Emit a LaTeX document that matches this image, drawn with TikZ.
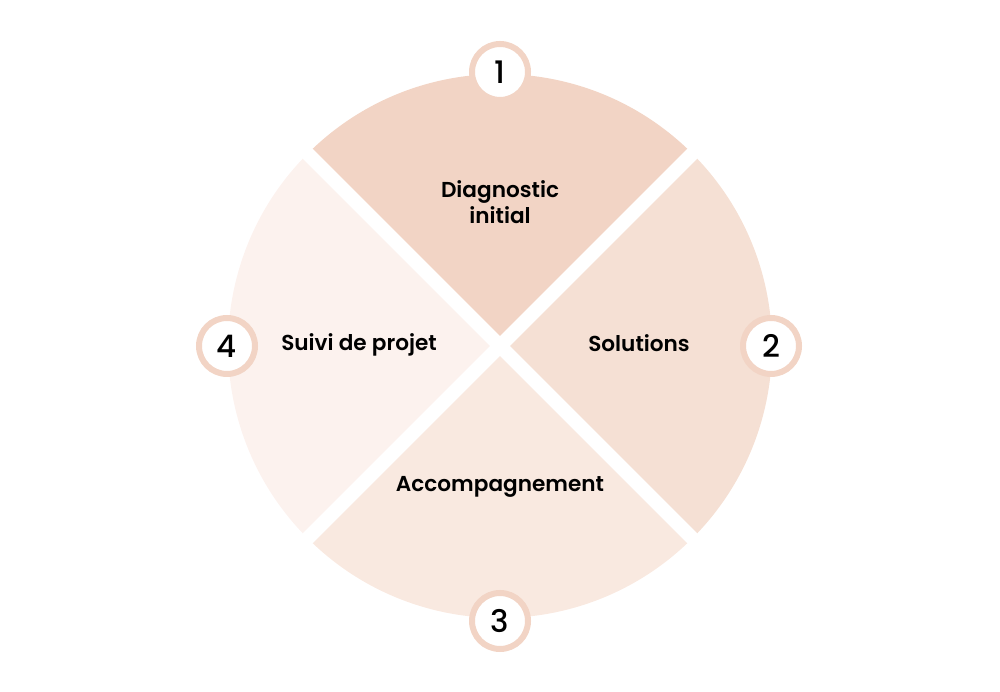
\documentclass[tikz,border=0pt]{standalone}
\usepackage{fontspec}
\setmainfont{Poppins}
\newfontfamily\semifont{Poppins SemiBold}
\newfontfamily\medfont{Poppins Medium}
\usepackage{tikz}

\definecolor{segA}{HTML}{F2D4C5}
\definecolor{segB}{HTML}{F5E0D4}
\definecolor{segC}{HTML}{F9E9E0}
\definecolor{segD}{HTML}{FCF2EE}

\tikzset{
	badge/.style={circle, draw=segA, line width=6pt, fill=white, minimum size=56pt, inner sep=0pt, font=\medfont\fontsize{31}{31}\selectfont},
	steplabel/.style={align=center, font=\semifont\fontsize{21.6}{26}\selectfont}
}

\begin{document}
\begin{tikzpicture}[x=1pt, y=1pt]
	\useasboundingbox (0,0) rectangle (1000,692);
	\coordinate (c) at (500,346);
	
	% sectors
	\fill[segA] (c) -- ++(45:272pt) arc[start angle=45, end angle=135, radius=272pt] -- cycle;
	\fill[segB] (c) -- ++(-45:272pt) arc[start angle=-45, end angle=45, radius=272pt] -- cycle;
	\fill[segC] (c) -- ++(-135:272pt) arc[start angle=-135, end angle=-45, radius=272pt] -- cycle;
	\fill[segD] (c) -- ++(135:272pt) arc[start angle=135, end angle=225, radius=272pt] -- cycle;
	\draw[white, line width=14pt] (c) ++(45:-290pt) -- ++(45:580pt);
	\draw[white, line width=14pt] (c) ++(135:-290pt) -- ++(135:580pt);
	
	% labels
	\node[steplabel] (diag) at (500,490) {Diagnostic\\initial};
	\node[steplabel] (sol) at (639,349) {Solutions};
	\node[steplabel] (acc) at (500,205) {Accompagnement};
	\node[steplabel] (suivi) at (359,347) {Suivi de projet};
	
	% badges
	\node[badge] (n1) at (500,620) {1};
	\node[badge] (n2) at (771,346) {2};
	\node[badge] (n3) at (500,71) {3};
	\node[badge] (n4) at (227,346) {4};
\end{tikzpicture}
\end{document}
